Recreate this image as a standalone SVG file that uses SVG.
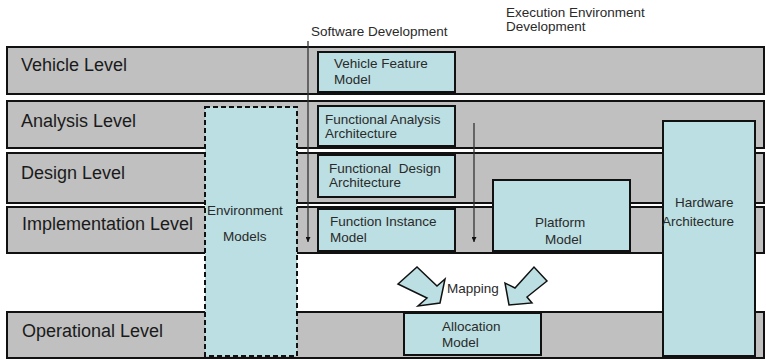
<svg xmlns="http://www.w3.org/2000/svg" width="766" height="359" viewBox="0 0 766 359">
<style>
.row{fill:#c0c0c0;stroke:#111;stroke-width:2}
.box{fill:#bbdfe2;stroke:#111;stroke-width:2}
.dash{fill:#bbdfe2;stroke:#111;stroke-width:2;stroke-dasharray:5 3}
.lvl{font-family:"Liberation Sans",Arial,sans-serif;font-size:18px;fill:#1a1a1a}
.t{font-family:"Liberation Sans",Arial,sans-serif;font-size:13.5px;fill:#2a2a2a;white-space:pre}
.ln{stroke:#333;stroke-width:1.3;fill:none}
.arr{fill:#bbdfe2;stroke:#111;stroke-width:1.5;stroke-linejoin:miter}
</style>
<defs>
<marker id="ah" viewBox="0 0 10 10" refX="10" refY="5" markerWidth="5" markerHeight="5" orient="auto" markerUnits="userSpaceOnUse">
<path d="M0,0 L10,5 L0,10 Z" fill="#111"/>
</marker>
</defs>
<rect width="766" height="359" fill="#ffffff"/>
<g id="vehicle-level"><rect class="row" x="7" y="47" width="757" height="47"/><text class="lvl" x="21" y="71">Vehicle Level</text></g>
<g id="analysis-level"><rect class="row" x="7" y="101" width="757" height="47"/><text class="lvl" x="21" y="127">Analysis Level</text></g>
<g id="design-level"><rect class="row" x="7" y="153" width="757" height="50"/><text class="lvl" x="21" y="179">Design Level</text></g>
<g id="implementation-level"><rect class="row" x="7" y="207" width="757" height="46"/><text class="lvl" x="22" y="230">Implementation Level</text></g>
<g id="operational-level"><rect class="row" x="7" y="312" width="757" height="46"/><text class="lvl" x="22" y="337">Operational Level</text></g>
<g id="labels">
<text class="t" x="311" y="36">Software Development</text>
<text class="t" x="506" y="17">Execution Environment</text>
<text class="t" x="506" y="31">Development</text>
</g>
<g id="connectors">
<line class="ln" x1="308" y1="41" x2="308" y2="242" marker-end="url(#ah)"/>
<line class="ln" x1="474" y1="123" x2="474" y2="242" marker-end="url(#ah)"/>
<polygon class="arr" points="398,284 417,267 437,286 445,279 440,303 418,306 427,298"/>
<polygon class="arr" points="547,281 534,267 515,288 505,283 509,305 532,303 527,297"/>
<text class="t" x="447" y="293">Mapping</text>
</g>
<g id="environment-models"><rect class="dash" x="205" y="107" width="92" height="249"/><text class="t" x="207" y="215">Environment</text><text class="t" x="223" y="241">Models</text></g>
<g id="vehicle-feature-model"><rect class="box" x="318" y="52" width="137" height="40"/><text class="t" x="334" y="68">Vehicle Feature</text><text class="t" x="334" y="84">Model</text></g>
<g id="functional-analysis-architecture"><rect class="box" x="318" y="106" width="137" height="40"/><text class="t" x="325" y="124">Functional Analysis</text><text class="t" x="325" y="138">Architecture</text></g>
<g id="functional-design-architecture"><rect class="box" x="318" y="155" width="137" height="42"/><text class="t" x="329" y="173">Functional  Design</text><text class="t" x="329" y="187">Architecture</text></g>
<g id="function-instance-model"><rect class="box" x="318" y="209" width="137" height="42"/><text class="t" x="330" y="226">Function Instance</text><text class="t" x="330" y="242">Model</text></g>
<g id="platform-model"><rect class="box" x="493" y="180" width="137" height="71"/><text class="t" x="535" y="227">Platform</text><text class="t" x="545" y="244">Model</text></g>
<g id="hardware-architecture"><rect class="box" x="663" y="121" width="92" height="235"/><text class="t" x="675" y="207">Hardware</text><text class="t" x="662" y="226">Architecture</text></g>
<g id="allocation-model"><rect class="box" x="404" y="313" width="137" height="42"/><text class="t" x="442" y="331">Allocation</text><text class="t" x="442" y="347">Model</text></g>
</svg>
